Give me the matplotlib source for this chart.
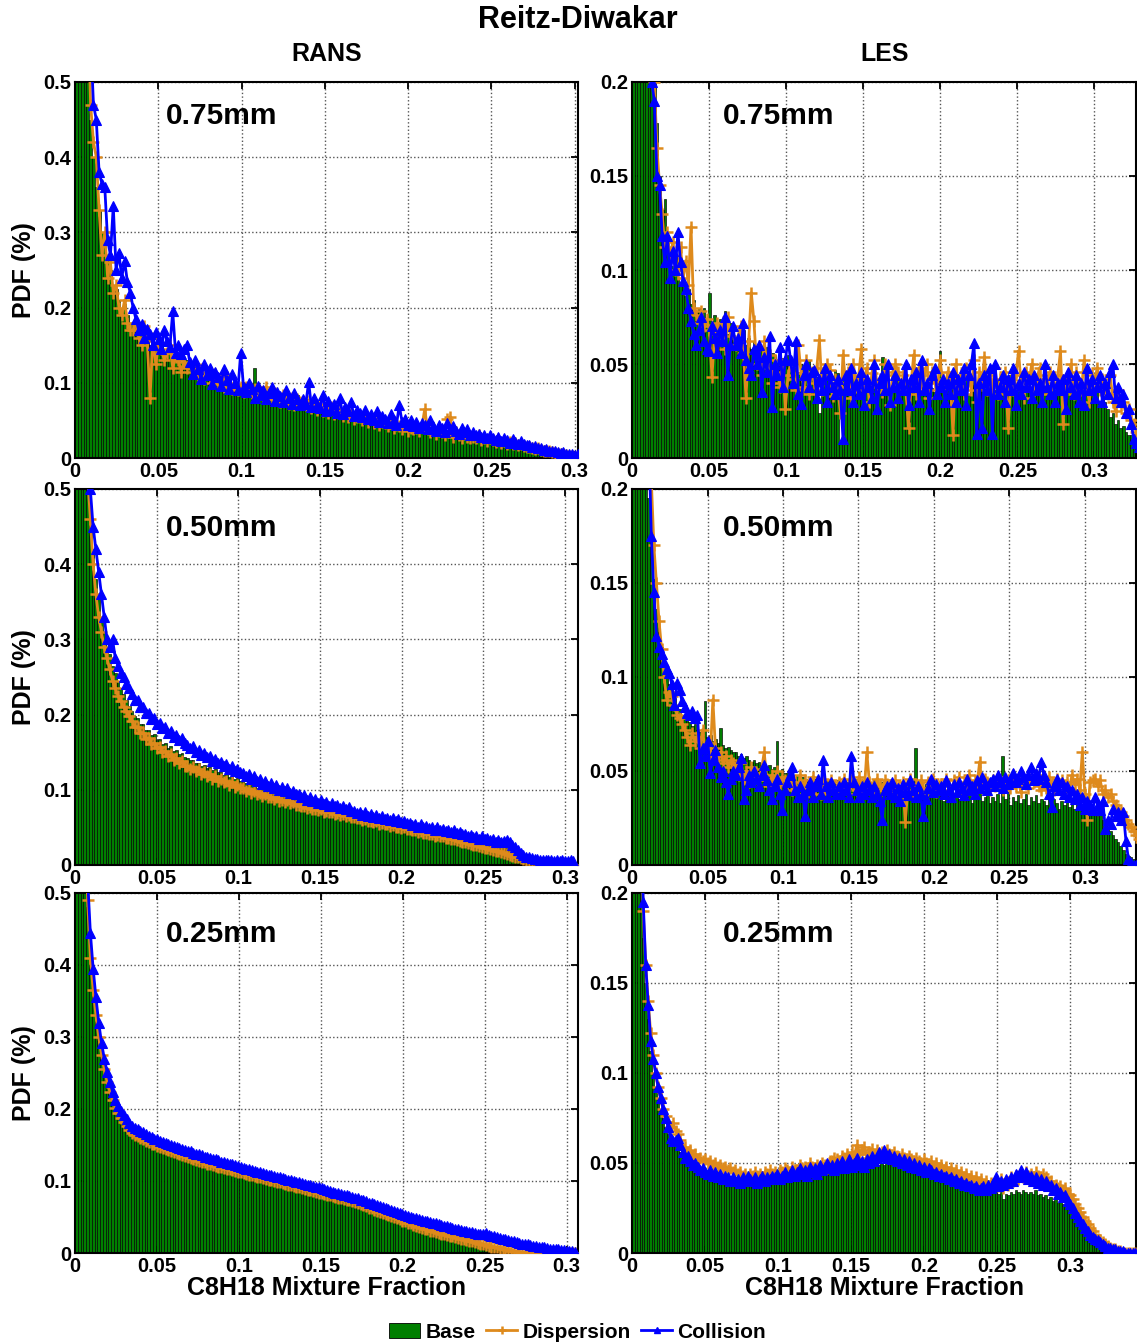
import numpy as np
import matplotlib
matplotlib.use("Agg")
import matplotlib.pyplot as plt
from matplotlib.patches import Patch
from matplotlib.lines import Line2D

plt.rcParams["font.family"] = ["Liberation Sans", "DejaVu Sans"]
plt.rcParams["font.weight"] = "bold"

# width of one mixture-fraction bin
BIN_W = 0.0017

# PDF of each bin, in thousandths of a percent, starting at Z = 0
# ---- RANS ----
rans_075_base = [
    2400, 1500, 1000, 760, 580, 450, 400, 360, 330, 300, 290, 265, 250, 230, 225, 210, 200, 205, 190, 180,
    175, 170, 165, 172, 160, 158, 150, 155, 148, 145, 150, 140, 138, 142, 135, 132, 138, 128, 126, 130,
    128, 120, 124, 118, 122, 115, 112, 118, 110, 108, 113, 105, 104, 110, 100, 98, 103, 96, 94, 100,
    92, 95, 90, 120, 96, 86, 90, 85, 84, 92, 83, 86, 80, 82, 88, 79, 81, 78, 84, 77,
    76, 74, 78, 72, 70, 73, 68, 66, 70, 64, 65, 68, 62, 60, 64, 61, 58, 62, 57, 56,
    55, 54, 57, 52, 50, 53, 49, 48, 51, 46, 47, 45, 48, 44, 43, 46, 42, 41, 43, 40,
    40, 38, 41, 37, 36, 38, 35, 34, 36, 33, 32, 34, 31, 30, 32, 29, 30, 28, 29, 27,
    27, 25, 26, 24, 23, 24, 22, 21, 22, 20, 19, 20, 18, 17, 18, 16, 15, 16, 14, 13,
    13, 12, 11, 12, 10, 9, 10, 8, 7, 8, 6, 5, 6, 4, 4, 3, 3, 2, 1, 1,
]
rans_075_disp = [
    2600, 1700, 1100, 800, 600, 470, 420, 400, 330, 270, 300, 240, 260, 220, 230, 200, 190, 210, 180, 170,
    170, 180, 160, 150, 175, 155, 80, 160, 125, 150, 145, 130, 140, 150, 120, 135, 130, 115, 128, 120,
    125, 115, 120, 110, 118, 105, 115, 108, 100, 112, 98, 105, 95, 108, 100, 92, 98, 90, 95, 88,
    95, 90, 86, 92, 82, 88, 80, 95, 84, 78, 86, 80, 75, 84, 78, 72, 80, 70, 78, 74,
    72, 70, 76, 66, 70, 64, 72, 62, 66, 60, 68, 58, 62, 64, 56, 60, 54, 58, 52, 55,
    54, 50, 56, 48, 52, 46, 50, 44, 48, 46, 42, 48, 40, 44, 42, 38, 44, 36, 40, 38,
    40, 36, 42, 65, 38, 34, 40, 32, 36, 34, 30, 52, 55, 28, 34, 30, 26, 32, 28, 26,
    28, 26, 30, 24, 27, 22, 26, 24, 21, 25, 20, 22, 19, 21, 18, 20, 17, 18, 16, 15,
    15, 14, 12, 13, 11, 10, 9, 10, 8, 7, 6, 5, 5, 4, 3, 3, 2, 2, 1, 1,
]
rans_075_coll = [
    2800, 1800, 1200, 900, 700, 560, 470, 450, 380, 365, 360, 290, 270, 335, 250, 272, 240, 262, 234, 220,
    200, 185, 170, 178, 160, 172, 165, 150, 168, 158, 145, 170, 155, 148, 195, 140, 150, 138, 145, 150,
    128, 112, 130, 118, 105, 125, 110, 120, 98, 115, 108, 96, 118, 104, 92, 112, 100, 90, 140, 95,
    88, 100, 92, 80, 96, 84, 90, 78, 86, 94, 76, 88, 82, 74, 90, 80, 72, 86, 78, 70,
    78, 72, 101, 68, 80, 70, 66, 84, 62, 76, 64, 72, 60, 80, 58, 68, 62, 74, 56, 64,
    60, 54, 64, 52, 58, 50, 62, 48, 56, 52, 46, 58, 50, 44, 70, 48, 52, 44, 50, 42,
    48, 40, 46, 44, 38, 50, 42, 36, 44, 40, 34, 46, 38, 42, 36, 32, 40, 34, 38, 30,
    34, 30, 32, 28, 31, 26, 30, 27, 24, 28, 22, 26, 24, 20, 25, 21, 18, 22, 19, 17,
    17, 15, 16, 13, 14, 11, 12, 10, 9, 10, 8, 7, 8, 6, 6, 5, 4, 5, 4, 3,
]
rans_050_base = [
    3000, 1800, 1100, 780, 600, 470, 420, 380, 360, 330, 310, 290, 280, 265, 255, 245, 235, 228, 220, 212,
    205, 198, 196, 188, 187, 180, 179, 173, 174, 166, 167, 161, 162, 156, 158, 151, 153, 147, 149, 143,
    142, 139, 139, 135, 136, 132, 133, 129, 130, 126, 127, 123, 124, 120, 121, 117, 119, 114, 116, 112,
    113, 109, 110, 106, 108, 103, 105, 101, 102, 98, 100, 96, 97, 93, 94, 91, 92, 88, 89, 86,
    86, 84, 85, 82, 83, 80, 81, 78, 79, 76, 77, 75, 76, 73, 74, 72, 73, 70, 71, 69,
    69, 67, 68, 65, 66, 64, 64, 62, 63, 60, 61, 59, 59, 57, 58, 56, 56, 54, 55, 53,
    53, 51, 52, 49, 50, 48, 48, 46, 47, 45, 45, 43, 44, 42, 42, 40, 41, 39, 39, 37,
    37, 35, 36, 33, 34, 32, 31, 30, 30, 28, 27, 26, 36, 24, 23, 22, 22, 20, 19, 18,
    17, 15, 14, 12, 11, 9, 8, 6, 5, 4, 3, 2, 1, 1, 0, 0, 0, 0, 0, 0,
]
rans_050_disp = [
    3200, 1900, 1150, 800, 520, 460, 400, 360, 330, 310, 290, 275, 260, 245, 235, 225, 218, 210, 205, 198,
    192, 184, 184, 176, 176, 168, 169, 161, 162, 156, 157, 150, 152, 145, 147, 140, 142, 136, 138, 132,
    132, 128, 130, 125, 127, 121, 124, 118, 121, 115, 118, 112, 115, 110, 112, 107, 110, 104, 107, 102,
    103, 99, 101, 96, 99, 94, 96, 92, 94, 90, 91, 88, 90, 85, 87, 84, 86, 82, 84, 80,
    80, 78, 79, 76, 77, 74, 75, 73, 74, 71, 72, 70, 71, 68, 69, 67, 68, 65, 66, 64,
    64, 62, 63, 60, 61, 59, 59, 57, 58, 55, 56, 54, 54, 52, 53, 51, 51, 49, 50, 48,
    48, 46, 46, 44, 45, 43, 43, 41, 41, 39, 40, 38, 38, 36, 36, 34, 34, 33, 32, 31,
    30, 29, 28, 27, 26, 25, 24, 23, 22, 21, 20, 19, 18, 17, 16, 14, 13, 12, 11, 10,
    9, 8, 7, 6, 5, 4, 3, 2, 1, 1, 0, 0, 0, 0, 0, 0, 0, 0, 0, 0,
]
rans_050_coll = [
    3400, 2100, 1300, 900, 640, 500, 450, 420, 390, 360, 330, 300, 290, 300, 275, 265, 255, 250, 240, 235,
    228, 220, 220, 210, 210, 202, 202, 194, 195, 187, 189, 182, 184, 176, 178, 170, 173, 166, 169, 162,
    160, 156, 158, 150, 153, 146, 149, 143, 145, 138, 141, 135, 137, 131, 134, 128, 131, 125, 128, 123,
    122, 118, 121, 114, 118, 112, 115, 108, 112, 105, 109, 103, 106, 100, 104, 98, 102, 96, 99, 94,
    94, 90, 93, 87, 90, 85, 88, 83, 86, 81, 84, 79, 82, 78, 80, 76, 78, 74, 77, 72,
    72, 69, 71, 67, 70, 65, 68, 64, 66, 62, 65, 61, 63, 60, 62, 58, 61, 57, 59, 56,
    56, 53, 55, 51, 54, 50, 52, 49, 51, 47, 50, 46, 48, 45, 47, 44, 46, 43, 44, 41,
    41, 38, 40, 37, 39, 35, 38, 34, 36, 33, 34, 31, 33, 30, 32, 33, 30, 27, 24, 20,
    16, 13, 11, 10, 9, 8, 8, 7, 7, 6, 6, 6, 5, 6, 5, 6, 5, 5, 6, 5,
]
rans_025_base = [
    3500, 1800, 1000, 640, 480, 400, 360, 330, 300, 278, 258, 242, 228, 216, 206, 198, 192, 186, 181, 176,
    172, 170, 167, 165, 163, 161, 159, 157, 156, 154, 152, 151, 149, 148, 146, 145, 144, 142, 141, 140,
    136, 134, 133, 131, 130, 128, 127, 126, 124, 123, 122, 120, 119, 118, 117, 115, 114, 113, 112, 110,
    109, 108, 107, 106, 105, 104, 103, 102, 101, 100, 99, 98, 97, 96, 95, 94, 93, 92, 91, 90,
    89, 88, 87, 86, 85, 84, 83, 82, 81, 80, 79, 78, 77, 76, 75, 74, 73, 72, 71, 70,
    69, 67, 66, 64, 63, 61, 60, 58, 57, 55, 54, 52, 51, 49, 48, 46, 45, 43, 42, 40,
    38, 37, 35, 34, 33, 31, 30, 29, 28, 26, 25, 24, 23, 22, 21, 20, 19, 18, 17, 16,
    15, 14, 13, 12, 11, 10, 10, 9, 8, 7, 6, 6, 5, 4, 4, 3, 3, 2, 1, 1,
    0, 0, 0, 0, 0, 0, 0, 0, 0, 0, 0, 0, 0, 0, 0, 0, 0, 0, 0, 0,
]
rans_025_disp = [
    3700, 1900, 1050, 660, 490, 410, 365, 330, 300, 275, 255, 238, 224, 212, 202, 194, 188, 182, 176, 171,
    167, 164, 162, 160, 158, 156, 154, 152, 151, 149, 147, 146, 144, 143, 141, 140, 139, 137, 136, 135,
    133, 132, 131, 129, 128, 127, 126, 124, 123, 122, 121, 120, 119, 118, 117, 116, 115, 114, 113, 112,
    111, 110, 109, 108, 107, 106, 105, 104, 103, 102, 101, 100, 99, 98, 97, 96, 95, 94, 93, 92,
    91, 90, 89, 88, 87, 86, 85, 84, 83, 82, 81, 80, 79, 78, 77, 76, 75, 74, 73, 72,
    71, 69, 68, 66, 65, 63, 62, 60, 59, 57, 56, 54, 53, 51, 50, 48, 47, 45, 44, 42,
    41, 39, 38, 36, 35, 34, 33, 31, 30, 29, 28, 27, 26, 25, 24, 23, 22, 21, 20, 19,
    18, 17, 16, 15, 14, 13, 12, 11, 10, 9, 8, 8, 7, 6, 5, 4, 3, 3, 2, 1,
    1, 0, 0, 0, 0, 0, 0, 0, 0, 0, 0, 0, 0, 0, 0, 0, 0, 0, 0, 0,
]
rans_025_coll = [
    4000, 2100, 1200, 720, 520, 445, 395, 355, 320, 292, 270, 252, 237, 224, 213, 204, 197, 191, 186, 181,
    177, 174, 172, 170, 168, 165, 163, 161, 159, 158, 156, 154, 153, 151, 150, 148, 147, 146, 145, 143,
    142, 141, 139, 138, 137, 136, 134, 133, 132, 131, 130, 129, 127, 126, 125, 124, 123, 122, 121, 120,
    118, 117, 116, 115, 114, 113, 112, 111, 110, 109, 108, 107, 106, 105, 104, 103, 102, 101, 100, 99,
    98, 97, 96, 95, 94, 93, 92, 91, 90, 89, 88, 86, 85, 84, 83, 82, 81, 80, 79, 78,
    77, 76, 74, 73, 72, 70, 69, 68, 66, 65, 64, 62, 61, 60, 58, 57, 56, 54, 53, 52,
    50, 49, 48, 47, 46, 45, 44, 43, 42, 41, 40, 39, 38, 37, 36, 35, 34, 33, 32, 31,
    30, 29, 29, 28, 27, 27, 26, 28, 25, 24, 23, 22, 21, 20, 19, 18, 17, 16, 15, 14,
    13, 12, 12, 11, 10, 10, 9, 8, 8, 7, 6, 6, 5, 5, 4, 4, 3, 3, 3, 2,
]

# ---- LES ----
les_075_base = [
    900, 700, 550, 420, 340, 290, 260, 230, 210, 178, 150, 132, 138, 118, 112, 102, 108, 96, 92, 94,
    86, 90, 82, 84, 78, 80, 76, 80, 74, 88, 72, 76, 70, 74, 68, 78, 66, 72, 70, 64,
    66, 62, 68, 60, 64, 58, 62, 56, 60, 57, 54, 59, 52, 56, 55, 50, 57, 53, 49, 55,
    52, 48, 54, 46, 50, 47, 44, 52, 45, 48, 43, 24, 46, 42, 48, 44, 40, 47, 45, 8,
    44, 41, 46, 39, 43, 40, 38, 45, 37, 42, 39, 36, 44, 38, 41, 54, 37, 40, 36, 39,
    38, 42, 36, 40, 35, 39, 44, 37, 34, 41, 36, 38, 33, 40, 37, 35, 42, 57, 36, 34,
    40, 36, 44, 38, 35, 42, 37, 46, 34, 39, 43, 36, 41, 38, 35, 44, 37, 40, 36, 42,
    38, 35, 41, 37, 44, 34, 39, 36, 42, 33, 38, 45, 35, 40, 37, 34, 41, 36, 39, 35,
    37, 34, 40, 36, 33, 39, 35, 42, 34, 38, 32, 37, 35, 40, 33, 36, 31, 35, 30, 33,
    30, 26, 22, 24, 18, 20, 16, 17, 14, 12, 12, 10, 8, 6, 5, 4, 3, 2, 1, 0,
]
les_075_disp = [
    1000, 800, 620, 480, 380, 310, 270, 240, 200, 165, 145, 130, 112, 120, 104, 115, 100, 98, 112, 96,
    105, 92, 123, 80, 76, 72, 78, 70, 74, 68, 43, 66, 72, 62, 70, 58, 75, 65, 68, 60,
    64, 70, 56, 32, 62, 88, 73, 50, 58, 44, 62, 48, 55, 40, 52, 46, 38, 50, 26, 44,
    50, 42, 36, 60, 45, 38, 52, 34, 46, 40, 48, 63, 36, 44, 50, 47, 33, 42, 38, 24,
    55, 40, 46, 32, 50, 38, 44, 58, 36, 48, 30, 45, 52, 38, 42, 35, 50, 44, 28, 46,
    50, 46, 38, 44, 36, 16, 40, 55, 34, 48, 38, 44, 50, 32, 46, 40, 36, 52, 42, 38,
    46, 40, 12, 50, 38, 44, 34, 48, 42, 36, 52, 30, 46, 40, 54, 36, 44, 38, 48, 34,
    42, 38, 46, 16, 40, 36, 44, 57, 38, 32, 46, 40, 50, 36, 42, 48, 34, 44, 38, 46,
    40, 36, 44, 57, 18, 42, 38, 50, 34, 46, 40, 36, 52, 38, 30, 44, 40, 48, 36, 42,
    38, 34, 44, 30, 25, 36, 28, 30, 24, 26, 20, 18, 14, 12, 10, 8, 6, 5, 4, 3,
]
les_075_coll = [
    1100, 900, 700, 500, 360, 280, 230, 200, 190, 150, 145, 118, 104, 118, 96, 110, 100, 120, 104, 94,
    90, 80, 73, 66, 60, 68, 75, 62, 58, 57, 70, 64, 56, 68, 62, 75, 44, 60, 70, 60,
    64, 56, 72, 52, 48, 44, 58, 50, 60, 35, 54, 46, 65, 27, 50, 44, 59, 38, 52, 63,
    52, 40, 62, 34, 29, 44, 50, 38, 46, 47, 32, 42, 36, 48, 30, 44, 38, 34, 42, 36,
    10, 44, 36, 48, 30, 40, 34, 46, 28, 42, 38, 32, 50, 26, 40, 44, 36, 50, 30, 38,
    44, 32, 40, 36, 50, 28, 42, 38, 46, 30, 52, 36, 40, 26, 44, 48, 34, 38, 42, 30,
    40, 34, 46, 30, 42, 36, 48, 28, 44, 50, 61, 13, 40, 16, 44, 36, 48, 13, 50, 34,
    38, 44, 30, 42, 36, 48, 28, 40, 34, 46, 38, 42, 32, 44, 36, 40, 30, 50, 38, 34,
    44, 30, 40, 36, 42, 26, 46, 38, 34, 44, 30, 40, 28, 48, 36, 42, 32, 38, 44, 30,
    40, 34, 46, 50, 32, 38, 30, 34, 24, 26, 18, 10, 8, 6, 4, 3, 2, 1, 0, 0,
]
les_050_base = [
    1000, 760, 560, 420, 320, 250, 195, 172, 152, 136, 124, 116, 108, 101, 96, 92, 89, 85, 83, 80,
    79, 77, 76, 74, 75, 72, 71, 70, 87, 68, 69, 66, 67, 65, 73, 64, 62, 63, 61, 60,
    60, 58, 59, 57, 58, 56, 55, 56, 54, 55, 53, 54, 52, 53, 51, 52, 66, 50, 51, 49,
    49, 47, 48, 46, 48, 45, 47, 46, 44, 47, 45, 46, 44, 46, 45, 43, 46, 44, 45, 43,
    45, 43, 46, 44, 42, 45, 43, 46, 44, 42, 45, 43, 44, 42, 45, 43, 41, 44, 42, 43,
    44, 42, 45, 43, 41, 44, 42, 45, 43, 44, 62, 42, 44, 41, 43, 45, 42, 44, 41, 43,
    37, 34, 38, 36, 40, 33, 37, 35, 39, 34, 36, 38, 33, 37, 35, 39, 34, 36, 38, 33,
    36, 34, 38, 33, 58, 35, 39, 32, 36, 34, 37, 33, 35, 38, 32, 36, 34, 37, 33, 35,
    34, 32, 36, 31, 35, 33, 30, 34, 32, 35, 31, 33, 30, 34, 32, 29, 33, 31, 30, 28,
    28, 26, 27, 24, 22, 20, 18, 16, 14, 12, 10, 8, 6, 5, 4, 3, 2, 1, 0, 0,
]
les_050_disp = [
    1100, 850, 620, 470, 360, 280, 230, 205, 170, 150, 130, 115, 100, 88, 92, 90, 85, 80, 78, 75,
    72, 68, 64, 70, 66, 68, 62, 72, 60, 65, 58, 88, 62, 56, 60, 54, 58, 52, 56, 54,
    52, 48, 54, 46, 50, 44, 52, 47, 49, 45, 51, 60, 46, 42, 48, 44, 50, 43, 47, 45,
    42, 46, 40, 44, 38, 48, 41, 45, 39, 43, 47, 40, 44, 38, 46, 41, 39, 45, 42, 40,
    44, 39, 46, 41, 38, 45, 42, 40, 47, 43, 39, 60, 44, 41, 38, 46, 42, 40, 45, 43,
    42, 38, 45, 41, 37, 44, 23, 40, 46, 39, 43, 38, 45, 41, 37, 44, 40, 46, 39, 42,
    43, 40, 46, 42, 38, 45, 41, 47, 39, 44, 42, 48, 40, 45, 43, 55, 41, 46, 44, 40,
    45, 42, 47, 43, 40, 46, 44, 41, 48, 42, 45, 39, 47, 43, 41, 46, 44, 48, 42, 40,
    44, 41, 47, 43, 40, 46, 42, 45, 39, 44, 41, 48, 43, 46, 40, 60, 38, 24, 44, 45,
    46, 42, 45, 38, 40, 36, 38, 34, 32, 30, 28, 26, 24, 22, 20, 18, 16, 14, 12, 10,
]
les_050_coll = [
    1200, 900, 680, 500, 380, 290, 230, 175, 145, 122, 116, 112, 108, 104, 102, 96, 85, 97, 93, 87,
    84, 81, 80, 82, 78, 80, 54, 62, 58, 66, 49, 56, 61, 52, 47, 50, 44, 38, 46, 50,
    48, 52, 57, 35, 40, 48, 44, 50, 46, 42, 48, 53, 45, 40, 35, 42, 46, 38, 29, 40,
    44, 48, 52, 40, 36, 42, 38, 26, 40, 44, 36, 42, 46, 38, 56, 42, 36, 44, 40, 38,
    42, 38, 44, 40, 36, 58, 44, 40, 36, 42, 38, 44, 40, 36, 42, 38, 34, 24, 40, 42,
    38, 44, 36, 41, 34, 43, 39, 37, 45, 40, 36, 42, 38, 26, 35, 41, 46, 39, 43, 40,
    42, 38, 45, 40, 36, 43, 39, 44, 41, 37, 46, 40, 42, 38, 45, 41, 47, 43, 40, 44,
    46, 42, 48, 44, 41, 47, 43, 45, 49, 44, 46, 50, 47, 43, 48, 52, 45, 49, 46, 55,
    48, 44, 38, 31, 42, 46, 40, 44, 38, 42, 36, 40, 35, 38, 32, 36, 30, 34, 32, 29,
    36, 32, 29, 34, 19, 24, 22, 30, 26, 28, 24, 28, 13, 3, 1, 0, 0, 0, 0, 0,
]
les_025_base = [
    700, 420, 280, 215, 175, 150, 130, 112, 100, 92, 85, 80, 75, 70, 66, 63, 62, 60, 58, 56,
    54, 52, 52, 49, 50, 47, 48, 45, 47, 44, 45, 43, 44, 42, 43, 41, 43, 40, 42, 40,
    41, 39, 42, 40, 39, 41, 40, 42, 40, 41, 42, 40, 43, 41, 42, 41, 43, 42, 41, 43,
    43, 42, 44, 43, 44, 43, 45, 44, 45, 44, 46, 45, 44, 46, 45, 47, 46, 45, 47, 46,
    46, 47, 45, 48, 46, 47, 45, 48, 47, 49, 48, 46, 49, 48, 50, 47, 49, 48, 50, 49,
    50, 49, 51, 50, 49, 51, 50, 48, 50, 49, 48, 50, 47, 49, 48, 47, 48, 46, 47, 46,
    45, 46, 44, 45, 43, 44, 42, 43, 41, 42, 40, 41, 39, 40, 38, 39, 38, 37, 38, 36,
    37, 36, 35, 36, 35, 34, 35, 33, 34, 30, 33, 32, 34, 33, 35, 34, 33, 35, 34, 33,
    34, 33, 35, 32, 33, 31, 32, 30, 31, 29, 30, 28, 29, 27, 27, 26, 25, 23, 21, 19,
    17, 15, 14, 12, 11, 10, 8, 7, 6, 5, 4, 4, 3, 2, 2, 1, 1, 1, 0, 0,
    0, 0, 0,
]
les_025_disp = [
    900, 520, 320, 240, 190, 160, 140, 122, 110, 100, 92, 86, 80, 76, 73, 70, 72, 68, 66, 63,
    58, 59, 56, 57, 54, 55, 52, 53, 51, 52, 50, 51, 49, 50, 48, 49, 47, 48, 46, 47,
    45, 46, 44, 45, 43, 44, 42, 44, 43, 45, 43, 44, 42, 45, 44, 46, 44, 45, 43, 46,
    45, 47, 46, 44, 48, 46, 45, 49, 47, 48, 46, 50, 48, 47, 49, 48, 50, 49, 47, 51,
    51, 53, 52, 50, 54, 53, 55, 52, 56, 54, 60, 55, 57, 59, 53, 56, 58, 54, 57, 55,
    56, 54, 57, 55, 53, 56, 54, 52, 55, 53, 51, 54, 52, 50, 53, 51, 49, 52, 50, 48,
    51, 48, 50, 47, 49, 46, 48, 45, 47, 44, 46, 43, 45, 42, 44, 41, 43, 40, 42, 39,
    41, 38, 40, 37, 39, 38, 40, 37, 41, 36, 39, 38, 42, 40, 43, 41, 44, 42, 45, 43,
    44, 42, 45, 43, 41, 44, 42, 39, 40, 37, 38, 36, 37, 35, 36, 33, 32, 30, 27, 25,
    23, 20, 18, 16, 14, 12, 10, 8, 7, 6, 5, 4, 3, 2, 2, 1, 1, 0, 0, 0,
    0, 0, 0,
]
les_025_coll = [
    1000, 560, 340, 250, 195, 160, 138, 118, 108, 100, 92, 86, 80, 75, 70, 64, 62, 63, 64, 60,
    56, 53, 54, 51, 49, 50, 48, 46, 47, 45, 44, 46, 43, 45, 42, 44, 41, 43, 42, 40,
    42, 40, 41, 39, 42, 40, 43, 41, 40, 42, 39, 41, 43, 40, 42, 41, 43, 42, 44, 41,
    43, 45, 42, 44, 46, 43, 45, 47, 44, 46, 43, 48, 45, 47, 44, 49, 46, 48, 50, 47,
    49, 46, 50, 48, 51, 47, 49, 52, 48, 50, 53, 49, 51, 48, 52, 50, 54, 51, 53, 56,
    54, 57, 53, 55, 52, 54, 51, 53, 50, 52, 49, 51, 48, 50, 47, 49, 46, 48, 45, 47,
    46, 44, 45, 43, 44, 42, 43, 41, 42, 40, 41, 39, 40, 38, 39, 37, 38, 36, 37, 35,
    36, 37, 35, 38, 36, 39, 42, 37, 40, 38, 41, 39, 42, 40, 44, 42, 46, 43, 45, 41,
    43, 40, 42, 39, 41, 38, 40, 37, 38, 35, 36, 33, 34, 31, 32, 29, 27, 25, 22, 20,
    18, 16, 14, 12, 10, 9, 8, 7, 6, 5, 4, 3, 3, 2, 2, 1, 1, 1, 0, 0,
    0, 0, 0,
]

nozzles = ["0.75mm", "0.50mm", "0.25mm"]
rans_xmax = [0.302, 0.308, 0.307]
les_xmax = [0.327, 0.334, 0.345]
xticks = [0, 0.05, 0.1, 0.15, 0.2, 0.25, 0.3]
xticklabels = ["0", "0.05", "0.1", "0.15", "0.2", "0.25", "0.3"]
rans_yticks = [0, 0.1, 0.2, 0.3, 0.4, 0.5]
rans_yticklabels = ["0", "0.1", "0.2", "0.3", "0.4", "0.5"]
les_yticks = [0, 0.05, 0.1, 0.15, 0.2]
les_yticklabels = ["0", "0.05", "0.1", "0.15", "0.2"]

GREEN = "#007f00"
ORANGE = "#de8a1c"
BLUE = "#0000ff"

rans_sets = [
    (rans_075_base, rans_075_disp, rans_075_coll),
    (rans_050_base, rans_050_disp, rans_050_coll),
    (rans_025_base, rans_025_disp, rans_025_coll),
]
les_sets = [
    (les_075_base, les_075_disp, les_075_coll),
    (les_050_base, les_050_disp, les_050_coll),
    (les_025_base, les_025_disp, les_025_coll),
]

fig = plt.figure(figsize=(11.37, 13.44), dpi=100)

# axes boxes: [left, bottom, width, height] in figure fraction
row_boxes = [(0.6592, 0.2798), (0.3564, 0.2798), (0.0677, 0.2679)]
col_left = [0.0660, 0.5559]
col_width = [0.4424, 0.4433]
label_y = [0.91, 0.896, 0.886]


def bin_centers(vals):
    return (np.arange(len(vals)) + 0.5) * BIN_W


def draw_panel(ax, series, xmax, ymax, yticks, yticklabels, label, ly):
    base, disp, coll = [np.array(s) / 1000.0 for s in series]
    ax.bar(bin_centers(base), base, width=BIN_W, color=GREEN,
           edgecolor="black", linewidth=0.45, zorder=2)
    ax.plot(bin_centers(disp), disp, color=ORANGE, lw=2.0, marker="+",
            ms=8, mew=1.8, zorder=3)
    ax.plot(bin_centers(coll), coll, color=BLUE, lw=2.0, marker="^",
            ms=6.5, mew=0.8, zorder=4)
    ax.set_xlim(0, xmax)
    ax.set_ylim(0, ymax)
    ax.set_xticks(xticks)
    ax.set_xticklabels(xticklabels)
    ax.set_yticks(yticks)
    ax.set_yticklabels(yticklabels)
    ax.grid(True, linestyle=":", color="#555555", linewidth=1.0, zorder=0)
    ax.set_axisbelow(True)
    ax.tick_params(direction="in", top=True, right=True, length=5,
                   width=1.3, labelsize=14.5, pad=3)
    for sp in ax.spines.values():
        sp.set_linewidth(1.5)
    ax.text(0.18, ly, label, transform=ax.transAxes, fontsize=21.5,
            fontweight="bold", va="center", ha="left", zorder=5)


for r in range(3):
    bottom, height = row_boxes[r]
    ax_r = fig.add_axes([col_left[0], bottom, col_width[0], height])
    draw_panel(ax_r, rans_sets[r], rans_xmax[r], 0.5, rans_yticks,
               rans_yticklabels, nozzles[r], label_y[r])
    ax_r.set_ylabel("PDF (%)", fontsize=18, fontweight="bold")
    ax_r.yaxis.set_label_coords(-0.078, 0.5)

    ax_l = fig.add_axes([col_left[1], bottom, col_width[1], height])
    draw_panel(ax_l, les_sets[r], les_xmax[r], 0.2, les_yticks,
               les_yticklabels, nozzles[r], label_y[r])

    if r == 2:
        for a in (ax_r, ax_l):
            a.set_xlabel("C8H18 Mixture Fraction", fontsize=18, fontweight="bold")
            a.xaxis.set_label_coords(0.5, -0.065)

fig.text(0.508, 1 - 20 / 1344, "Reitz-Diwakar", ha="center", va="center",
         fontsize=22, fontweight="bold")
fig.text(0.2875, 1 - 54 / 1344, "RANS", ha="center", va="center",
         fontsize=18, fontweight="bold")
fig.text(0.7776, 1 - 54 / 1344, "LES", ha="center", va="center",
         fontsize=18, fontweight="bold")

handles = [
    Patch(facecolor=GREEN, edgecolor="black", linewidth=0.6),
    Line2D([], [], color=ORANGE, lw=2.0, marker="+", ms=8, mew=1.8),
    Line2D([], [], color=BLUE, lw=2.0, marker="^", ms=6.5),
]
fig.legend(handles, ["Base", "Dispersion", "Collision"], loc="center",
           bbox_to_anchor=(0.508, 1 - 1332 / 1344), ncol=3, frameon=False,
           fontsize=15, handlelength=1.5, handletextpad=0.25, columnspacing=0.5,
           markerscale=0.7)

fig.savefig("out.png", dpi=100)
